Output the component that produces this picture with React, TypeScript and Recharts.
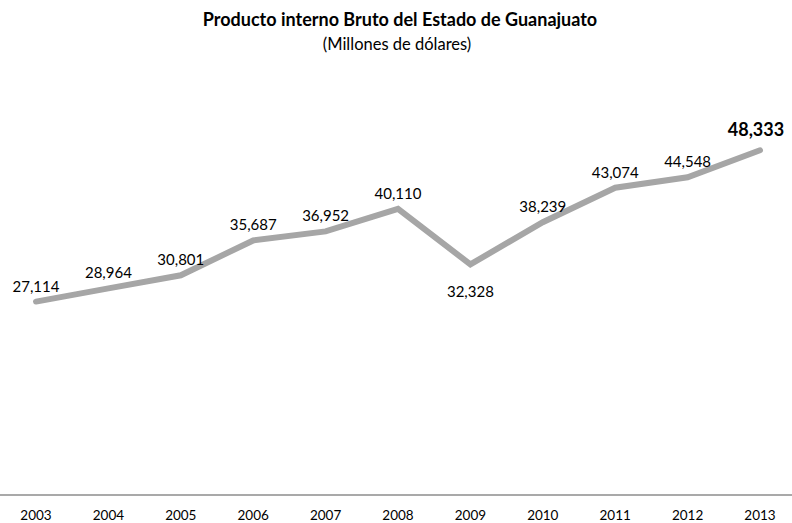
import { LineChart, Line, XAxis, YAxis, LabelList } from "recharts";

const years = ["2003", "2004", "2005", "2006", "2007", "2008", "2009", "2010", "2011", "2012", "2013"];
const pib = [27114, 28964, 30801, 35687, 36952, 40110, 32328, 38239, 43074, 44548, 48333];

const data = years.map((year, i) => ({ year, pib: pib[i] }));

const FONT = "Lato, 'Open Sans', 'Liberation Sans', sans-serif";

// labels sit above the line, except the 2009 dip (below) and the last point (bold)
function PointLabel(props: any) {
  const { x, y, value, index } = props;
  const last = index === data.length - 1;
  const below = data[index]?.year === "2009";
  return (
    <text
      x={last ? x - 4 : x}
      y={below ? y + 27 : last ? y - 21 : y - 16}
      textAnchor="middle"
      dominantBaseline="central"
      fontFamily={FONT}
      fontSize={last ? 18 : 15}
      fontWeight={last ? 700 : 400}
      fill="#000"
    >
      {Number(value).toLocaleString("en-US")}
    </text>
  );
}

export default function App() {
  return (
    <div style={{ position: "absolute", left: 0, top: 0, width: 792, height: 523, background: "#fff", fontFamily: FONT }}>
      <div style={{ position: "absolute", top: 8, left: 0, width: 800, textAlign: "center", fontSize: 18, fontWeight: 700, color: "#000" }}>
        Producto interno Bruto del Estado de Guanajuato
      </div>
      <div style={{ position: "absolute", top: 34, left: 0, width: 794, textAlign: "center", fontSize: 16.5, color: "#000" }}>
        (Millones de dólares)
      </div>
      <LineChart width={792} height={523} data={data} margin={{ top: 67, right: 0, left: 0, bottom: 0 }}>
        <XAxis
          dataKey="year"
          height={28}
          axisLine={{ stroke: "#8c8c8c", strokeWidth: 1.5 }}
          tickLine={false}
          padding={{ left: 36, right: 32 }}
          interval={0}
          tick={{ fontSize: 13.5, fill: "#000", fontFamily: FONT }}
          tickMargin={9}
        />
        <YAxis hide domain={[0, 60000]} />
        <Line
          type="linear"
          dataKey="pib"
          stroke="#a6a6a6"
          strokeWidth={6}
          strokeLinecap="round"
          strokeLinejoin="miter"
          dot={false}
          activeDot={false}
          isAnimationActive={false}
        >
          <LabelList dataKey="pib" content={PointLabel} />
        </Line>
      </LineChart>
    </div>
  );
}
